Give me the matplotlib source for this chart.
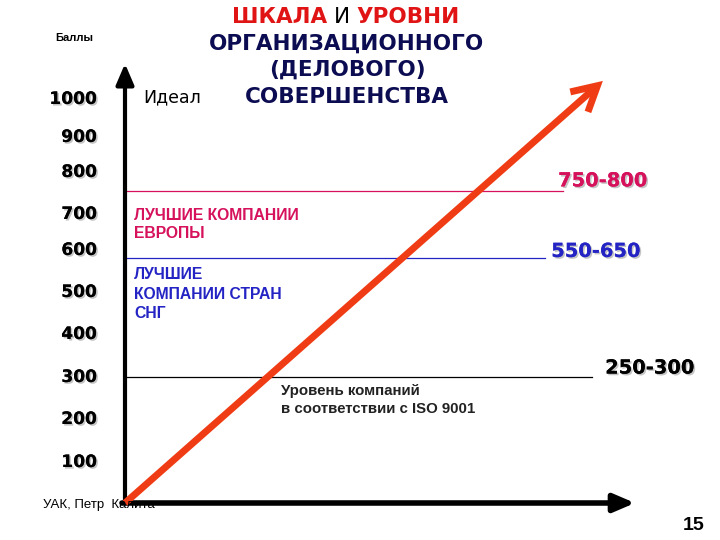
import matplotlib
matplotlib.use("Agg")
import matplotlib.pyplot as plt
import matplotlib.patheffects as pe
from matplotlib.ticker import NullLocator
import numpy as np

# scores on the vertical scale and where the slide puts them (px above origin)
score_ticks = [100, 200, 300, 400, 500, 600, 700, 800, 900, 1000]
knot_scores = [0, 100, 200, 300, 400, 500, 600, 700, 800, 900, 1000, 1100]
knot_px = [0, 43, 86, 128, 171, 213, 255, 291, 333, 368, 406, 444]

# level lines
level_values = [295, 575, 750]
level_labels = ["250-300", "550-650", "750-800"]
level_colors = ["black", "#2424c4", "#d6125c"]
level_ends = [91.6, 82.4, 85.9]   # how far right each line runs (x units 0..100)

# red arrow (ideal growth)
arrow_x = [0, 93.7]
arrow_y = [0, 1042]

RED = "#f03c14"
NAVY = "#0c0c52"

fig = plt.figure(figsize=(7.2, 5.4), dpi=100)
ax = fig.add_axes([125 / 720, 37 / 540, 510 / 720, 435 / 540])


def fwd(v):
    return np.interp(v, knot_scores, knot_px)


def inv(h):
    return np.interp(h, knot_px, knot_scores)


ax.set_yscale("function", functions=(fwd, inv))
ax.set_xlim(0, 100)
ax.set_ylim(0, 1076)
for s in ax.spines.values():
    s.set_visible(False)
ax.set_xticks([])
ax.yaxis.set_minor_locator(NullLocator())
ax.set_yticks(score_ticks)
ax.set_yticklabels([str(v) for v in score_ticks])
ax.tick_params(axis="y", length=0, pad=20)
shadow = [pe.withSimplePatchShadow(offset=(1.2, -1.2), shadow_rgbFace="gray", alpha=0.45), pe.Normal()]
for lab in ax.get_yticklabels():
    lab.set_fontsize(12.3)
    lab.set_fontweight("bold")
    lab.set_family("DejaVu Sans")
    lab.set_path_effects(shadow)

# horizontal level lines + range labels
for val, lab, col, xe in zip(level_values, level_labels, level_colors, level_ends):
    ax.plot([0, xe], [val, val], color=col, lw=0.9, zorder=2)
offs = [(13, 9), (6, 7), (-5, 10)]
for val, lab, col, xe, o in zip(level_values, level_labels, level_colors, level_ends, offs):
    ax.annotate(lab, xy=(xe, val), xytext=o, textcoords="offset pixels",
                ha="left", va="center", fontsize=14, fontweight="bold",
                color=col, family="DejaVu Sans", path_effects=shadow, annotation_clip=False)

# group captions under the lines
ax.annotate("ЛУЧШИЕ КОМПАНИИ\nЕВРОПЫ", xy=(1.8, level_values[2]), xytext=(0, -17),
            textcoords="offset pixels", ha="left", va="top", fontsize=11.3,
            fontweight="bold", color=level_colors[2], family="Liberation Sans", linespacing=1.28)
ax.annotate("ЛУЧШИЕ\nКОМПАНИИ СТРАН\nСНГ", xy=(1.8, level_values[1]), xytext=(0, -9),
            textcoords="offset pixels", ha="left", va="top", fontsize=11.3,
            fontweight="bold", color=level_colors[1], family="Liberation Sans", linespacing=1.35)
ax.annotate("Уровень компаний\nв соответствии с ISO 9001", xy=(30.6, level_values[0]), xytext=(0, -7),
            textcoords="offset pixels", ha="left", va="top", fontsize=10.8,
            fontweight="bold", color="#222222", family="Liberation Sans", linespacing=1.35)

ax.annotate("Идеал", xy=(0, 1000), xytext=(18, 0), textcoords="offset pixels",
            ha="left", va="center", fontsize=12.5, color="black", family="DejaVu Sans",
            annotation_clip=False)

# axis arrows
ax.annotate("", xy=(0, 1.01), xytext=(0, 0), xycoords="axes fraction",
            arrowprops=dict(arrowstyle="-|>,head_length=0.7,head_width=0.3", lw=3,
                            color="black", mutation_scale=18, shrinkA=0, shrinkB=0))
ax.annotate("", xy=(1.0, 0), xytext=(-0.006, 0), xycoords="axes fraction",
            arrowprops=dict(arrowstyle="-|>,head_length=0.7,head_width=0.3", lw=4,
                            color="black", mutation_scale=18, shrinkA=0, shrinkB=0))

# red arrow
ax.annotate("", xy=(arrow_x[1], arrow_y[1]), xytext=(arrow_x[0], arrow_y[0]),
            arrowprops=dict(arrowstyle="->,head_length=0.55,head_width=0.3", lw=5,
                            color=RED, mutation_scale=32, shrinkA=0, shrinkB=0,
                            capstyle="butt", joinstyle="miter"),
            zorder=5, annotation_clip=False)

# title
fig.text(232 / 720, 1 - 17 / 540, "ШКАЛА", ha="left", va="center", fontsize=15.5,
         fontweight="bold", color="#e01414", family="DejaVu Sans")
fig.text(334 / 720, 1 - 17 / 540, "И", ha="left", va="center", fontsize=15.5,
         color="black", family="DejaVu Sans")
fig.text(356 / 720, 1 - 17 / 540, "УРОВНИ", ha="left", va="center", fontsize=15.5,
         fontweight="bold", color="#e01414", family="DejaVu Sans")
for txt, yy in zip(["ОРГАНИЗАЦИОННОГО", "(ДЕЛОВОГО)", "СОВЕРШЕНСТВА"], [44, 70, 97]):
    fig.text(347 / 720, 1 - yy / 540, txt, ha="center", va="center", fontsize=15.5,
             fontweight="bold", color=NAVY, family="DejaVu Sans")

fig.text(55 / 720, 1 - 38 / 540, "Баллы", ha="left", va="center", fontsize=8,
         fontweight="bold", color="black", family="Liberation Sans")
fig.text(43 / 720, 1 - 505 / 540, "УАК, Петр  Калита", ha="left", va="center", fontsize=9.5,
         color="black", family="Liberation Sans", zorder=0)
fig.text(705 / 720, 1 - 525 / 540, "15", ha="right", va="center", fontsize=14,
         fontweight="bold", color="black", family="Liberation Sans")

fig.savefig("out.png", dpi=100)
